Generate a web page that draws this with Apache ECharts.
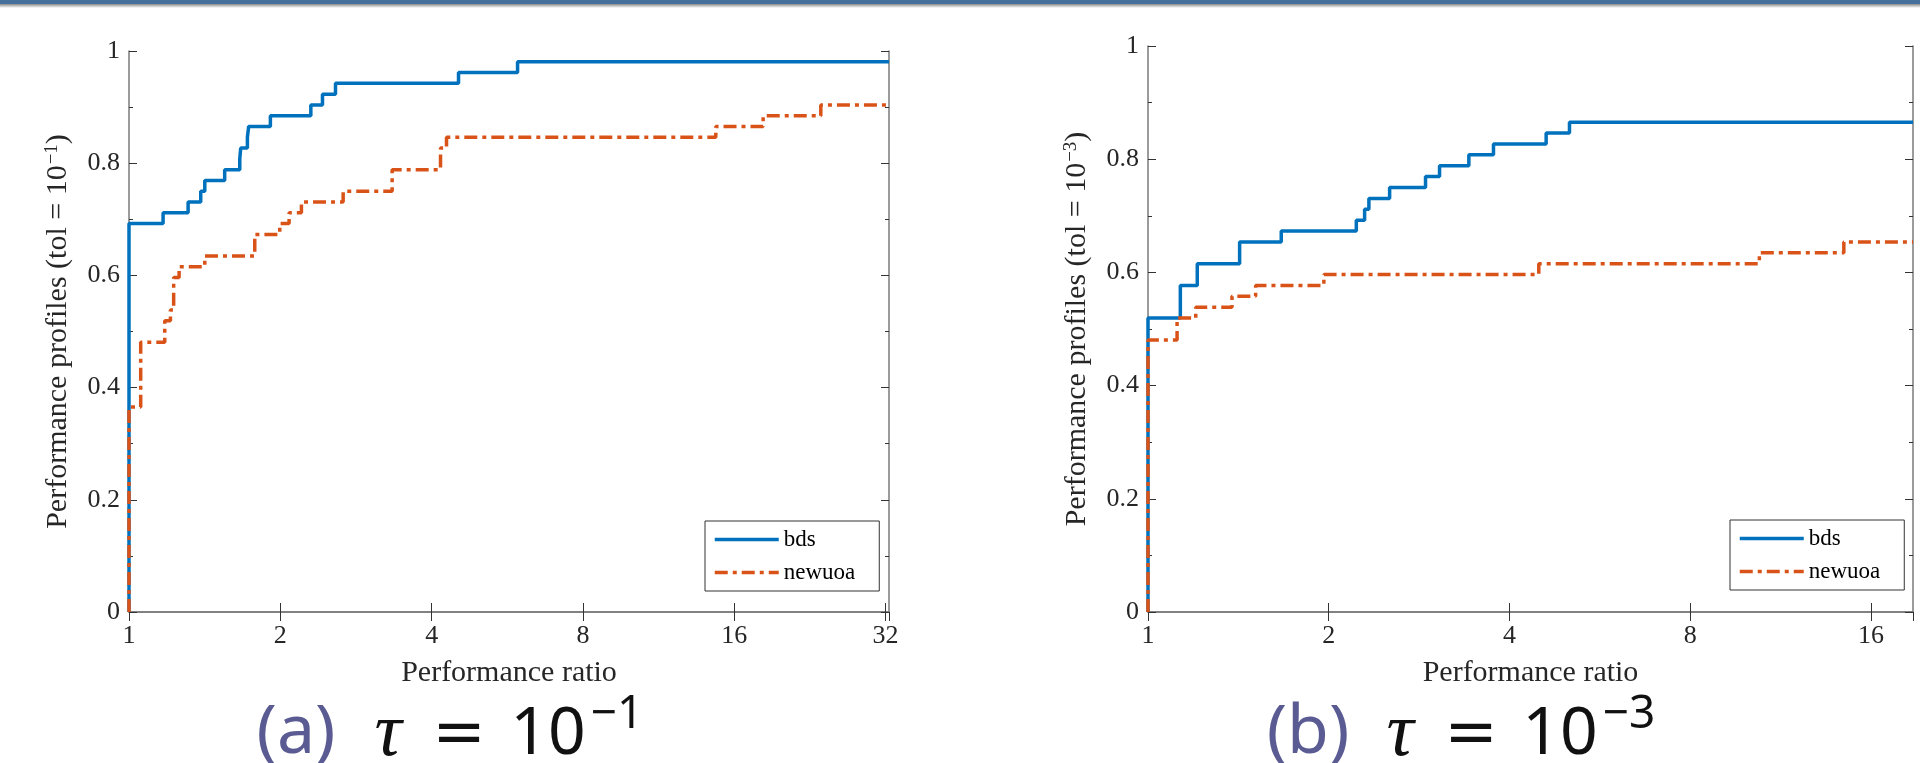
<!DOCTYPE html>
<html>
<head>
<meta charset="utf-8">
<script src="https://cdn.jsdelivr.net/npm/echarts@6.0.0/dist/echarts.min.js"></script>
<style>
  html, body { margin: 0; padding: 0; background: #fff; }
  #chart { width: 1920px; height: 763px; }
</style>
</head>
<body>
<div id="chart"></div>
<script>
// number of test problems (profiles are solved / nProblems)
const nProblems = 52

// (a) tol = 1e-1
const bdsRatioA = [1, 1.169, 1.311, 1.389, 1.415, 1.550, 1.661, 1.668, 1.720, 1.730, 1.911, 2.300, 2.426, 2.575, 4.524, 5.929]
const bdsSolvedA = [36, 37, 38, 39, 40, 41, 42, 43, 44, 45, 46, 47, 48, 49, 50, 51]
const newuoaRatioA = [1, 1.055, 1.178, 1.209, 1.227, 1.258, 1.415, 1.779, 1.995, 2.082, 2.203, 2.667, 3.338, 4.166, 4.282, 14.70, 18.26, 23.78]
const newuoaSolvedA = [19, 25, 27, 28, 31, 32, 33, 35, 36, 37, 38, 39, 41, 43, 44, 45, 46, 47]
const xMaxA = 32.5

// (b) tol = 1e-3
const bdsRatioB = [1, 1.132, 1.208, 1.421, 1.667, 2.223, 2.295, 2.333, 2.526, 2.899, 3.059, 3.423, 3.762, 4.604, 5.035]
const bdsSolvedB = [27, 30, 32, 34, 35, 36, 37, 38, 39, 40, 41, 42, 43, 44, 45]
const newuoaRatioB = [1, 1.118, 1.201, 1.380, 1.511, 1.963, 4.476, 10.43, 14.42]
const newuoaSolvedB = [25, 27, 28, 29, 30, 31, 32, 33, 34]
const xMaxB = 18.8

const yTitleA = 'Performance profiles (tol = 10{sup|−1})'
const yTitleB = 'Performance profiles (tol = 10{sup|−3})'
const xTitle = 'Performance ratio'
const captionA = ['(a)', 'τ', '=', '10', '−1']
const captionB = ['(b)', 'τ', '=', '10', '−3']

const serif = 'Liberation Serif'
const textColor = '#262626'
const frameColor = '#7a7a7a'

// build stair points for step:'end'
const stairs = (ratios, solved, xMax) => {
  const pts = [[ratios[0], 0]]
  ratios.forEach((r, i) => pts.push([r, solved[i] / nProblems]))
  pts.push([xMax, solved[solved.length - 1] / nProblems])
  return pts
}

const pow2Label = (v) => {
  const l = Math.log2(v)
  return Math.abs(l - Math.round(l)) < 1e-6 ? String(Math.round(v)) : ''
}

const makeX = (gridIndex, xMax, top) => ({
  type: 'log',
  logBase: 2,
  gridIndex,
  position: top ? 'top' : 'bottom',
  min: 1,
  max: xMax,
  splitNumber: xMax > 20 ? 5 : 4,
  name: top ? '' : xTitle,
  nameLocation: 'middle',
  nameGap: 46,
  nameTextStyle: { fontFamily: serif, fontSize: 30, color: textColor },
  axisLine: { show: true, lineStyle: { color: frameColor, width: 1.5 } },
  axisTick: { show: true, inside: true, length: 9, lineStyle: { color: '#333', width: 1 } },
  axisLabel: {
    show: !top, fontFamily: serif, fontSize: 26, color: textColor, margin: 11,
    showMaxLabel: false, formatter: pow2Label
  },
  splitLine: { show: false }
})

const makeY = (gridIndex, title, right) => ({
  type: 'value',
  gridIndex,
  position: right ? 'right' : 'left',
  min: 0,
  max: 1,
  interval: 0.2,
  name: right ? '' : title,
  nameLocation: 'middle',
  nameGap: 56,
  nameTextStyle: {
    fontFamily: serif, fontSize: 30, color: textColor,
    rich: { sup: { fontFamily: serif, fontSize: 19, color: textColor, verticalAlign: 'top', padding: [0, 0, 10, 1] } }
  },
  axisLine: { show: true, lineStyle: { color: frameColor, width: 1.5 } },
  axisTick: { show: true, inside: true, length: 8, lineStyle: { color: '#333', width: 1 } },
  minorTick: { show: true, splitNumber: 2, length: 4, lineStyle: { color: '#333', width: 1 } },
  axisLabel: {
    show: !right, fontFamily: serif, fontSize: 26, color: textColor, margin: 9,
    formatter: (v) => (v === 0 || v === 1) ? String(v) : v.toFixed(1)
  },
  splitLine: { show: false }
})

const bdsStyle = { color: '#0072BD', width: 3.5, type: 'solid' }
const newuoaStyle = { color: '#D95319', width: 3.5, type: [13, 5, 4, 5] }

const makeSeries = (name, idx, data, style) => ({
  name,
  type: 'line',
  step: 'end',
  xAxisIndex: idx,
  yAxisIndex: idx,
  data,
  symbol: 'none',
  itemStyle: { color: style.color },
  lineStyle: style,
  animation: false
})

const legendBase = {
  orient: 'vertical',
  data: ['bds', 'newuoa'],
  backgroundColor: '#fff',
  borderColor: '#333',
  borderWidth: 1,
  borderRadius: 0,
  padding: [7, 24, 7, 8],
  itemWidth: 64,
  itemHeight: 14,
  itemGap: 10,
  itemStyle: { opacity: 0 },
  lineStyle: { width: 3.5 },
  textStyle: { fontFamily: serif, fontSize: 23, color: '#000' }
}

// caption pieces: x centre, font, size, colour, y
const captionParts = (parts, dx) => {
  const spec = [
    { x: 296, font: 'Noto Sans', size: 68, fill: '#5b5b93', y: 734, style: 'normal' },
    { x: 388, font: serif, size: 76, fill: '#111', y: 735, style: 'italic' },
    { x: 459, font: 'DejaVu Sans', size: 64, fill: '#111', y: 736, style: 'normal' },
    { x: 548, font: 'Noto Sans', size: 66, fill: '#111', y: 735, style: 'normal' },
    { x: 617, font: 'Noto Sans', size: 46, fill: '#111', y: 715, style: 'normal' }
  ]
  return parts.map((t, i) => ({
    type: 'text', x: spec[i].x + dx, y: spec[i].y, silent: true,
    style: {
      text: t, fill: spec[i].fill, fontFamily: spec[i].font, fontSize: spec[i].size,
      fontStyle: spec[i].style, align: 'center', verticalAlign: 'middle'
    }
  }))
}

const chart = echarts.init(document.getElementById('chart'))
chart.setOption({
  backgroundColor: '#fff',
  animation: false,
  grid: [
    { left: 129, right: 1031, top: 51, bottom: 151 },
    { left: 1148, right: 7, top: 46, bottom: 151 }
  ],
  xAxis: [makeX(0, xMaxA, false), makeX(0, xMaxA, true), makeX(1, xMaxB, false), makeX(1, xMaxB, true)],
  yAxis: [makeY(0, yTitleA, false), makeY(0, yTitleA, true), makeY(1, yTitleB, false), makeY(1, yTitleB, true)],
  legend: [
    Object.assign({ left: 705, top: 521 }, legendBase),
    Object.assign({ left: 1730, top: 520 }, legendBase)
  ],
  series: [
    makeSeries('bds', 0, stairs(bdsRatioA, bdsSolvedA, xMaxA), bdsStyle),
    makeSeries('newuoa', 0, stairs(newuoaRatioA, newuoaSolvedA, xMaxA), newuoaStyle),
    makeSeries('bds', 2, stairs(bdsRatioB, bdsSolvedB, xMaxB), bdsStyle),
    makeSeries('newuoa', 2, stairs(newuoaRatioB, newuoaSolvedB, xMaxB), newuoaStyle)
  ],
  graphic: [
    // slide header bar
    { type: 'rect', shape: { x: 0, y: 0, width: 1920, height: 4 }, style: { fill: '#44709b' }, silent: true },
    {
      type: 'rect', shape: { x: 0, y: 4, width: 1920, height: 4 }, silent: true,
      style: { fill: new echarts.graphic.LinearGradient(0, 0, 0, 1, [{ offset: 0, color: '#8a8a8a' }, { offset: 1, color: '#ffffff' }]) }
    }
  ].concat(captionParts(captionA, 0), captionParts(captionB, 1012))
})
</script>
</body>
</html>
